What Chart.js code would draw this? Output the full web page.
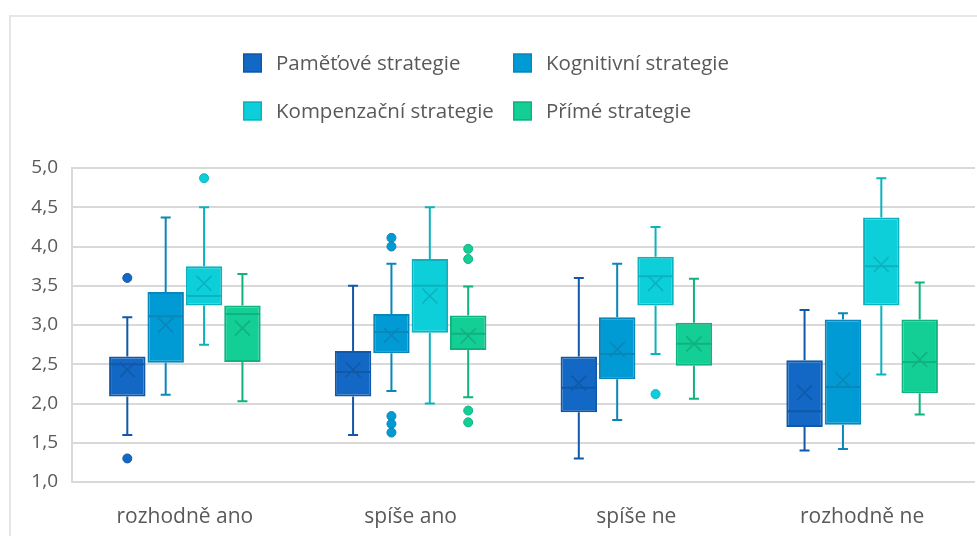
<!DOCTYPE html>
<html lang="cs">
<head>
<meta charset="utf-8">
<title>Strategie</title>
<script src="https://cdn.jsdelivr.net/npm/chart.js@4.4.1/dist/chart.umd.min.js"></script>
<style>
  html, body { margin: 0; padding: 0; background: #fff; overflow: hidden; }
  .wrap { position: relative; width: 977px; height: 536px; }
  .frame { position: absolute; left: 9px; top: 15px; width: 1000px; height: 600px;
           border: 2px solid #e6e6e6; box-sizing: border-box; pointer-events: none; }
  canvas { position: absolute; left: 0; top: 0; }
</style>
</head>
<body>
<div class="wrap">
  <canvas id="boxChart" width="977" height="536"></canvas>
  <div class="frame"></div>
</div>
<script>
// odpovědi
const categories = ["rozhodně ano", "spíše ano", "spíše ne", "rozhodně ne"];
const seriesNames = ["Paměťové strategie", "Kognitivní strategie", "Kompenzační strategie", "Přímé strategie"];

// Paměťové strategie
const pametoveMin = [1.60, 1.60, 1.30, 1.40];
const pametoveQ1 = [2.09, 2.09, 1.89, 1.70];
const pametoveMedian = [2.50, 2.40, 2.20, 1.90];
const pametoveQ3 = [2.60, 2.67, 2.60, 2.55];
const pametoveMax = [3.10, 3.50, 3.60, 3.19];
const pametoveMean = [2.43, 2.43, 2.26, 2.14];
const pametoveOutliers = [[3.60, 1.30], [], [], []];

// Kognitivní strategie
const kognitivniMin = [2.11, 2.16, 1.79, 1.42];
const kognitivniQ1 = [2.52, 2.64, 2.31, 1.73];
const kognitivniMedian = [3.11, 2.91, 2.63, 2.21];
const kognitivniQ3 = [3.42, 3.14, 3.10, 3.07];
const kognitivniMax = [4.37, 3.78, 3.78, 3.15];
const kognitivniMean = [3.00, 2.87, 2.69, 2.30];
const kognitivniOutliers = [[], [4.11, 4.00, 1.84, 1.74, 1.63], [], []];

// Kompenzační strategie
const kompenzacniMin = [2.75, 2.00, 2.63, 2.37];
const kompenzacniQ1 = [3.25, 2.90, 3.25, 3.25];
const kompenzacniMedian = [3.37, 3.50, 3.62, 3.75];
const kompenzacniQ3 = [3.75, 3.84, 3.87, 4.37];
const kompenzacniMax = [4.50, 4.50, 4.25, 4.87];
const kompenzacniMean = [3.53, 3.37, 3.53, 3.77];
const kompenzacniOutliers = [[4.87], [], [2.12], []];

// Přímé strategie
const primeMin = [2.03, 2.08, 2.06, 1.86];
const primeQ1 = [2.53, 2.68, 2.48, 2.13];
const primeMedian = [3.14, 2.89, 2.76, 2.53];
const primeQ3 = [3.25, 3.12, 3.03, 3.07];
const primeMax = [3.65, 3.49, 3.59, 3.54];
const primeMean = [2.96, 2.86, 2.76, 2.56];
const primeOutliers = [[], [3.97, 3.84, 1.91, 1.76], [], []];

const yTicksMin = 1.0;
const yTicksMax = 5.0;
const yTicksStep = 0.5;

const fillColors = ["#1268C4", "#009BD5", "#0CCFDA", "#13CE95"];
const lineColors = ["#1159A8", "#0A86B8", "#0CB3BF", "#10B27F"];
const textColor = "#595959";
const gridColor = "#d9d9d9";
const fontFamily = "'Open Sans', sans-serif";

const stats = [
  { min: pametoveMin, q1: pametoveQ1, median: pametoveMedian, q3: pametoveQ3, max: pametoveMax, mean: pametoveMean, outliers: pametoveOutliers },
  { min: kognitivniMin, q1: kognitivniQ1, median: kognitivniMedian, q3: kognitivniQ3, max: kognitivniMax, mean: kognitivniMean, outliers: kognitivniOutliers },
  { min: kompenzacniMin, q1: kompenzacniQ1, median: kompenzacniMedian, q3: kompenzacniQ3, max: kompenzacniMax, mean: kompenzacniMean, outliers: kompenzacniOutliers },
  { min: primeMin, q1: primeQ1, median: primeMedian, q3: primeQ3, max: primeMax, mean: primeMean, outliers: primeOutliers }
];

// whiskers, median, mean cross and outlier dots on top of the floating bars
const boxPlotPlugin = {
  id: "boxPlot",
  afterDatasetsDraw(chart) {
    const ctx = chart.ctx;
    const y = chart.scales.y;
    chart.data.datasets.forEach((ds, i) => {
      const s = stats[i];
      const meta = chart.getDatasetMeta(i);
      meta.data.forEach((bar, j) => {
        const { x, width } = bar.getProps(["x", "width"], true);
        const half = width / 2;
        const yMin = y.getPixelForValue(s.min[j]);
        const yQ1 = y.getPixelForValue(s.q1[j]);
        const yQ3 = y.getPixelForValue(s.q3[j]);
        const yMax = y.getPixelForValue(s.max[j]);
        const yMed = y.getPixelForValue(s.median[j]);
        const yMean = y.getPixelForValue(s.mean[j]);
        const cap = 5;

        ctx.save();
        ctx.strokeStyle = lineColors[i];
        ctx.lineWidth = 2;
        ctx.beginPath();
        ctx.moveTo(x, yQ3); ctx.lineTo(x, yMax);
        ctx.moveTo(x - cap, yMax); ctx.lineTo(x + cap, yMax);
        ctx.moveTo(x, yQ1); ctx.lineTo(x, yMin);
        ctx.moveTo(x - cap, yMin); ctx.lineTo(x + cap, yMin);
        ctx.stroke();

        // median
        ctx.beginPath();
        ctx.moveTo(x - half + 1, yMed); ctx.lineTo(x + half - 1, yMed);
        ctx.stroke();

        // mean
        const m = 7.5;
        ctx.lineWidth = 1.6;
        ctx.beginPath();
        ctx.moveTo(x - m, yMean - m); ctx.lineTo(x + m, yMean + m);
        ctx.moveTo(x - m, yMean + m); ctx.lineTo(x + m, yMean - m);
        ctx.stroke();

        // outliers
        ctx.fillStyle = fillColors[i];
        ctx.strokeStyle = lineColors[i];
        ctx.lineWidth = 1;
        s.outliers[j].forEach(v => {
          ctx.beginPath();
          ctx.arc(x, y.getPixelForValue(v), 4.5, 0, Math.PI * 2);
          ctx.fill();
          ctx.stroke();
        });
        ctx.restore();
      });
    });
  }
};

// two-column legend above the plot
const gridLegendPlugin = {
  id: "gridLegend",
  afterDraw(chart) {
    const ctx = chart.ctx;
    const cols = [243, 513];
    const rows = [63, 111];
    const box = 19;
    ctx.save();
    ctx.font = "20.5px " + fontFamily;
    ctx.textBaseline = "middle";
    ctx.textAlign = "left";
    chart.data.datasets.forEach((ds, i) => {
      const bx = cols[i % 2];
      const by = rows[Math.floor(i / 2)];
      ctx.fillStyle = ds.backgroundColor;
      ctx.fillRect(bx, by - box / 2, box, box);
      ctx.strokeStyle = ds.borderColor;
      ctx.lineWidth = 1.5;
      ctx.strokeRect(bx + 0.75, by - box / 2 + 0.75, box - 1.5, box - 1.5);
      ctx.fillStyle = textColor;
      ctx.fillText(ds.label, bx + box + 14, by + 1);
    });
    ctx.restore();
  }
};

const datasets = seriesNames.map((name, i) => ({
  label: name,
  data: categories.map((c, j) => [stats[i].q1[j], stats[i].q3[j]]),
  backgroundColor: fillColors[i],
  borderColor: lineColors[i],
  borderWidth: 2,
  borderSkipped: false,
  categoryPercentage: 0.68,
  barPercentage: 0.95
}));

const ctx = document.getElementById("boxChart").getContext("2d");
new Chart(ctx, {
  type: "bar",
  data: { labels: categories, datasets: datasets },
  options: {
    responsive: false,
    animation: false,
    events: [],
    layout: { padding: { top: 168, right: 2, left: 0, bottom: 0 } },
    plugins: {
      legend: { display: false },
      tooltip: { enabled: false }
    },
    scales: {
      x: {
        grid: { display: false, drawTicks: false },
        border: { display: false },
        ticks: { color: textColor, font: { family: fontFamily, size: 21 }, padding: 22 },
        afterFit(scale) { scale.height = 54; }
      },
      y: {
        min: yTicksMin,
        max: yTicksMax,
        grid: { color: gridColor, lineWidth: 2, drawTicks: false },
        border: { display: true, color: gridColor, width: 2 },
        ticks: {
          stepSize: yTicksStep,
          color: textColor,
          padding: 14,
          font: { family: fontFamily, size: 19 },
          callback: v => v.toFixed(1).replace(".", ",")
        },
        afterFit(scale) { scale.width = 72; }
      }
    }
  },
  plugins: [boxPlotPlugin, gridLegendPlugin]
});
</script>
</body>
</html>
